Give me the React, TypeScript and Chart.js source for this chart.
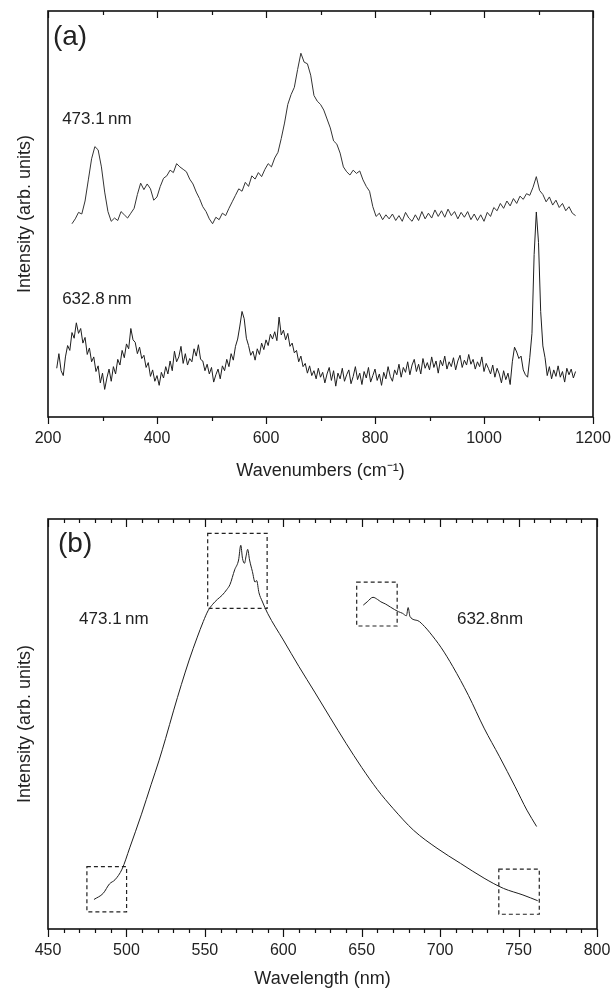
import React, { useEffect, useRef } from 'react';
import { Chart, registerables } from 'chart.js';

Chart.register(...registerables);

const FONT = '"Liberation Sans", Arial, Helvetica, sans-serif';
const TEXT = '#222';
const LINE = '#1e1e1e';

// ---------- Panel (a): Raman spectra ----------
const ramanTicks = [200, 400, 600, 800, 1000, 1200];

const raman473X = [
  244, 250, 256, 262, 268, 274, 280, 286, 292, 298,
  304, 310, 316, 322, 328, 334, 340, 346, 352, 358,
  364, 370, 376, 382, 388, 394, 400, 406, 412, 418,
  424, 430, 436, 442, 448, 454, 460, 466, 472, 478,
  484, 490, 496, 502, 508, 514, 520, 526, 532, 538,
  544, 550, 556, 562, 568, 574, 580, 586, 592, 598,
  604, 610, 616, 622, 628, 634, 640, 646, 652, 658,
  664, 670, 676, 682, 688, 694, 700, 706, 712, 718,
  724, 730, 736, 742, 748, 754, 760, 766, 772, 778,
  784, 790, 796, 802, 808, 814, 820, 826, 832, 838,
  844, 850, 856, 862, 868, 874, 880, 886, 892, 898,
  904, 910, 916, 922, 928, 934, 940, 946, 952, 958,
  964, 970, 976, 982, 988, 994, 1000, 1006, 1012, 1018,
  1024, 1030, 1036, 1042, 1048, 1054, 1060, 1066, 1072, 1078,
  1084, 1090, 1096, 1102, 1108, 1114, 1120, 1126, 1132, 1138,
  1144, 1150, 1156, 1162, 1168,
];
const raman473Y = [
  47.6, 48.8, 50.4, 50.0, 53.2, 58.4, 63.6, 66.6, 65.8, 61.6,
  55.4, 50.6, 48.2, 49.0, 48.4, 50.6, 49.8, 49.0, 50.2, 51.4,
  54.8, 57.6, 56.0, 57.4, 56.2, 53.4, 54.2, 56.8, 58.8, 59.4,
  60.8, 60.2, 62.4, 61.6, 61.0, 60.4, 58.6, 57.4, 55.4, 53.8,
  51.8, 50.6, 48.8, 47.6, 49.2, 48.6, 50.2, 49.6, 51.4, 53.0,
  54.6, 56.2, 55.6, 57.8, 56.8, 59.4, 58.6, 60.2, 59.2, 61.0,
  62.4, 61.6, 63.8, 65.2, 68.6, 72.4, 77.0, 79.4, 81.2, 85.6,
  89.6, 87.4, 87.0, 84.2, 79.2, 77.8, 77.0, 75.6, 73.4, 71.2,
  68.0, 67.2, 65.0, 61.6, 60.4, 59.6, 60.8, 60.0, 60.6, 58.4,
  56.8, 55.6, 51.8, 49.4, 50.2, 48.6, 49.8, 48.8, 50.0, 48.4,
  49.6, 48.2, 50.4, 49.0, 48.2, 49.8, 48.4, 50.6, 48.8, 50.2,
  49.0, 51.0, 49.4, 50.8, 49.2, 51.2, 49.6, 50.6, 48.8, 50.4,
  49.2, 50.6, 48.6, 50.0, 48.4, 49.8, 48.2, 50.4, 49.4, 51.6,
  50.8, 52.6, 51.4, 53.2, 52.0, 53.8, 52.6, 54.4, 53.6, 55.0,
  54.6, 56.6, 59.2, 55.8, 54.8, 53.0, 54.2, 52.2, 53.4, 51.6,
  52.6, 50.8, 51.8, 50.2, 49.6,
];

const raman632X = [
  216, 220, 224, 228, 232, 236, 240, 244, 248, 252,
  256, 260, 264, 268, 272, 276, 280, 284, 288, 292,
  296, 300, 304, 308, 312, 316, 320, 324, 328, 332,
  336, 340, 344, 348, 352, 356, 360, 364, 368, 372,
  376, 380, 384, 388, 392, 396, 400, 404, 408, 412,
  416, 420, 424, 428, 432, 436, 440, 444, 448, 452,
  456, 460, 464, 468, 472, 476, 480, 484, 488, 492,
  496, 500, 504, 508, 512, 516, 520, 524, 528, 532,
  536, 540, 544, 548, 552, 556, 560, 564, 568, 572,
  576, 580, 584, 588, 592, 596, 600, 604, 608, 612,
  616, 620, 624, 628, 632, 636, 640, 644, 648, 652,
  656, 660, 664, 668, 672, 676, 680, 684, 688, 692,
  696, 700, 704, 708, 712, 716, 720, 724, 728, 732,
  736, 740, 744, 748, 752, 756, 760, 764, 768, 772,
  776, 780, 784, 788, 792, 796, 800, 804, 808, 812,
  816, 820, 824, 828, 832, 836, 840, 844, 848, 852,
  856, 860, 864, 868, 872, 876, 880, 884, 888, 892,
  896, 900, 904, 908, 912, 916, 920, 924, 928, 932,
  936, 940, 944, 948, 952, 956, 960, 964, 968, 972,
  976, 980, 984, 988, 992, 996, 1000, 1004, 1008, 1012,
  1016, 1020, 1024, 1028, 1032, 1036, 1040, 1044, 1048, 1052,
  1056, 1060, 1064, 1068, 1072, 1076, 1080, 1084, 1088, 1092,
  1096, 1100, 1104, 1108, 1112, 1116, 1120, 1124, 1128, 1132,
  1136, 1140, 1144, 1148, 1152, 1156, 1160, 1164, 1168,
];
const raman632Y = [
  12.0, 15.6, 11.4, 10.2, 14.8, 17.6, 16.4, 20.8, 19.4, 23.2,
  20.6, 21.8, 18.2, 19.6, 15.4, 17.0, 13.6, 14.8, 11.2, 12.6,
  8.4, 10.8, 6.8, 9.6, 11.8, 8.8, 12.4, 10.6, 14.2, 12.8,
  16.4, 14.6, 18.0, 16.8, 21.8, 19.0, 18.4, 15.6, 17.2, 14.4,
  15.2, 12.2, 13.4, 10.0, 11.6, 8.8, 10.2, 7.8, 11.0, 9.6,
  12.4, 10.6, 13.8, 11.4, 16.2, 13.6, 14.8, 17.4, 13.2, 15.6,
  12.8, 14.4, 13.6, 16.8, 15.0, 17.8, 14.2, 13.8, 11.4, 13.0,
  10.6, 12.2, 8.6, 10.4, 11.8, 9.4, 12.6, 11.4, 14.2, 12.4,
  15.6, 14.0, 17.4, 19.2, 22.4, 26.0, 24.2, 19.4, 17.6, 15.2,
  16.2, 14.0, 16.8, 15.4, 18.2, 16.6, 19.0, 17.6, 20.4, 19.2,
  21.0, 18.8, 24.6, 20.2, 21.4, 19.0, 20.6, 17.4, 18.2, 15.8,
  16.4, 13.6, 15.0, 12.4, 13.2, 10.8, 12.6, 10.2, 11.4, 9.4,
  12.0, 9.8, 11.0, 8.4, 10.6, 12.2, 9.0, 11.4, 7.6, 10.8,
  9.4, 12.0, 8.8, 10.4, 11.6, 8.2, 10.0, 12.4, 9.2, 10.8,
  8.0, 11.2, 9.6, 12.2, 8.6, 10.2, 11.8, 9.0, 10.6, 7.8,
  11.0, 9.4, 12.4, 10.0, 8.8, 11.6, 10.4, 13.0, 9.8, 12.2,
  11.0, 13.6, 10.4, 12.8, 14.2, 11.2, 13.0, 10.6, 14.4, 12.0,
  13.4, 11.6, 14.8, 12.2, 13.8, 10.8, 14.0, 12.6, 15.0, 11.8,
  13.6, 12.4, 14.6, 11.6, 13.8, 15.2, 12.2, 14.0, 12.8, 15.4,
  13.0, 14.2, 11.8, 13.6, 12.4, 14.8, 11.2, 13.2, 12.0, 10.6,
  12.8, 9.8, 12.0, 10.6, 8.4, 11.4, 9.2, 10.8, 8.0, 13.6,
  17.2, 16.0, 14.4, 15.0, 11.6, 10.4, 9.8, 14.6, 20.6, 40.0,
  50.5, 43.0, 26.0, 17.5, 14.6, 10.2, 12.4, 9.4, 11.6, 10.0,
  12.6, 9.8, 11.2, 8.6, 12.0, 10.4, 11.8, 9.6, 11.2,
];

// ---------- Panel (b): photoluminescence ----------
const plTicks = [450, 500, 550, 600, 650, 700, 750, 800];

const pl473X = [
  479.3, 485.2, 489.2, 492.7, 497.2, 502.1, 509.6, 515.8, 520.7, 525.0, 530.0, 535.0, 540.0, 545.0, 549.0, 552.0,
  555.0, 558.0, 561.0, 564.0, 566.0, 569.0, 571.5, 572.9, 574.0, 575.3, 576.3, 577.3, 578.5, 580.3, 582.0, 583.0,
  584.5, 586.5, 590.0, 600.0, 610.0, 620.0, 630.0, 640.0, 650.0, 660.0, 670.0, 683.0, 698.0, 713.0, 728.0, 740.4,
  752.8, 762.2,
];
const pl473Y = [
  7.2, 8.7, 11.0, 12.0, 14.6, 19.8, 28.0, 35.3, 41.0, 46.5, 53.2, 59.6, 65.6, 71.0, 75.0, 77.6,
  79.2, 80.4, 81.4, 82.8, 84.0, 87.6, 90.0, 93.6, 90.4, 89.2, 91.0, 92.6, 90.0, 87.2, 84.6, 85.0,
  82.0, 80.0, 77.0, 70.5, 64.0, 57.8, 51.5, 45.3, 39.4, 34.0, 29.4, 24.1, 19.7, 16.0, 12.4, 9.9,
  8.3, 6.9,
];

const pl632X = [
  651.0, 653.5, 657.2, 660.0, 662.2, 665.0, 668.4, 671.0, 673.4, 676.0, 678.5, 679.6, 680.8, 685.8, 690.0, 693.2,
  700.7, 708.1, 718.0, 728.0, 737.9, 747.8, 755.3, 761.5,
];
const pl632Y = [
  79.0, 79.8, 80.9, 80.4, 79.8, 79.3, 78.5, 77.9, 77.4, 77.0, 76.4, 78.4, 76.2, 75.2, 73.8, 72.4,
  68.6, 64.0, 57.0, 49.0, 42.0, 34.7, 29.0, 25.0,
];

// dashed highlight boxes (wavelength / intensity extents)
const boxWlMin = [474.8, 551.8, 646.8, 737.4];
const boxWlMax = [500.1, 589.7, 672.6, 763.2];
const boxIntMin = [4.2, 78.2, 73.9, 3.6];
const boxIntMax = [15.2, 96.5, 84.6, 14.6];

type Label = { text: string; x: number; y: number; size: number };
type Box = { x0: number; x1: number; y0: number; y1: number };

function decorPlugin(cfg: {
  minorStep: number;
  majorStep: number;
  minorLen: number;
  majorLen: number;
  boxes: Box[];
  labels: Label[];
}) {
  return {
    id: 'decor',
    afterDatasetsDraw(chart: any) {
      const { ctx, chartArea: a, scales } = chart;
      const x = scales.x;
      const y = scales.y;
      ctx.save();
      // frame
      ctx.strokeStyle = '#111';
      ctx.lineWidth = 1.6;
      ctx.setLineDash([]);
      ctx.strokeRect(a.left, a.top, a.right - a.left, a.bottom - a.top);
      // ticks: outward at bottom, inward at top
      ctx.lineWidth = 1.2;
      const n = Math.round((x.max - x.min) / cfg.minorStep);
      const ratio = Math.round(cfg.majorStep / cfg.minorStep);
      for (let i = 0; i <= n; i++) {
        const v = x.min + i * cfg.minorStep;
        const px = Math.round(x.getPixelForValue(v)) + 0.5;
        const len = i % ratio === 0 ? cfg.majorLen : cfg.minorLen;
        ctx.beginPath();
        ctx.moveTo(px, a.bottom);
        ctx.lineTo(px, a.bottom + len);
        ctx.moveTo(px, a.top);
        ctx.lineTo(px, a.top + len);
        ctx.stroke();
      }
      // dashed boxes
      ctx.setLineDash([4, 3]);
      ctx.lineWidth = 1.2;
      ctx.strokeStyle = '#222';
      cfg.boxes.forEach((b) => {
        const x0 = x.getPixelForValue(b.x0);
        const x1 = x.getPixelForValue(b.x1);
        const y0 = y.getPixelForValue(b.y0);
        const y1 = y.getPixelForValue(b.y1);
        ctx.strokeRect(x0, y1, x1 - x0, y0 - y1);
      });
      ctx.setLineDash([]);
      // text labels
      ctx.fillStyle = TEXT;
      ctx.textAlign = 'left';
      ctx.textBaseline = 'middle';
      cfg.labels.forEach((l) => {
        ctx.font = `${l.size}px ${FONT}`;
        ctx.fillText(l.text, x.getPixelForValue(l.x), y.getPixelForValue(l.y));
      });
      ctx.restore();
    },
  };
}

function toPoints(xs: number[], ys: number[]) {
  return xs.map((v, i) => ({ x: v, y: ys[i] }));
}

function baseOptions(opts: {
  xMin: number;
  xMax: number;
  ticks: number[];
  xTitle: string;
  padTop: number;
  padRight: number;
  xHeight: number;
}) {
  return {
    animation: false,
    responsive: false,
    events: [],
    layout: { padding: { top: opts.padTop, right: opts.padRight, left: 0, bottom: 0 } },
    plugins: { legend: { display: false }, tooltip: { enabled: false } },
    scales: {
      x: {
        type: 'linear',
        min: opts.xMin,
        max: opts.xMax,
        afterBuildTicks: (s: any) => {
          s.ticks = opts.ticks.map((v) => ({ value: v }));
        },
        afterFit: (s: any) => {
          s.height = opts.xHeight;
          s.paddingLeft = 0;
          s.paddingRight = 0;
        },
        grid: { display: false, drawTicks: false },
        border: { display: false },
        ticks: {
          padding: 12,
          autoSkip: false,
          maxRotation: 0,
          color: TEXT,
          font: { family: FONT, size: 16 },
          callback: (v: any) => String(v),
        },
        title: {
          display: true,
          text: opts.xTitle,
          color: TEXT,
          font: { family: FONT, size: 18, lineHeight: 1 },
          padding: { top: 0, bottom: 0 },
        },
      },
      y: {
        min: 0,
        max: 100,
        afterFit: (s: any) => {
          s.width = 48;
        },
        grid: { display: false, drawTicks: false },
        border: { display: false },
        ticks: { display: false },
        title: {
          display: true,
          text: 'Intensity (arb. units)',
          color: TEXT,
          font: { family: FONT, size: 18, lineHeight: 1 },
          padding: { top: 16, bottom: 0 },
        },
      },
    },
  };
}

const lineStyle = {
  borderColor: LINE,
  borderWidth: 1,
  pointRadius: 0,
  fill: false,
};

export default function App() {
  const refA = useRef<HTMLCanvasElement>(null);
  const refB = useRef<HTMLCanvasElement>(null);

  useEffect(() => {
    const chartA = new Chart(refA.current as HTMLCanvasElement, {
      type: 'line',
      data: {
        datasets: [
          { ...lineStyle, data: toPoints(raman473X, raman473Y), borderColor: '#333' },
          { ...lineStyle, data: toPoints(raman632X, raman632Y) },
        ],
      },
      options: baseOptions({
        xMin: 200,
        xMax: 1200,
        ticks: ramanTicks,
        xTitle: 'Wavenumbers (cm\u207B\u00B9)',
        padTop: 11,
        padRight: 20,
        xHeight: 63,
      }) as any,
      plugins: [
        decorPlugin({
          minorStep: 100,
          majorStep: 200,
          minorLen: 4,
          majorLen: 7,
          boxes: [],
          labels: [
            { text: '(a)', x: 209, y: 93.6, size: 28 },
            { text: '473.1\u2009nm', x: 226, y: 73.4, size: 17 },
            { text: '632.8\u2009nm', x: 226, y: 29.1, size: 17 },
          ],
        }),
      ],
    });

    const boxes = boxWlMin.map((v, i) => ({
      x0: v,
      x1: boxWlMax[i],
      y0: boxIntMin[i],
      y1: boxIntMax[i],
    }));

    const chartB = new Chart(refB.current as HTMLCanvasElement, {
      type: 'line',
      data: {
        datasets: [
          { ...lineStyle, data: toPoints(pl473X, pl473Y), cubicInterpolationMode: 'monotone' },
          { ...lineStyle, data: toPoints(pl632X, pl632Y), cubicInterpolationMode: 'monotone' },
        ],
      },
      options: baseOptions({
        xMin: 450,
        xMax: 800,
        ticks: plTicks,
        xTitle: 'Wavelength (nm)',
        padTop: 39,
        padRight: 16,
        xHeight: 59,
      }) as any,
      plugins: [
        decorPlugin({
          minorStep: 10,
          majorStep: 50,
          minorLen: 4,
          majorLen: 8,
          boxes,
          labels: [
            { text: '(b)', x: 456.4, y: 93.9, size: 28 },
            { text: '473.1\u2009nm', x: 469.8, y: 75.6, size: 17 },
            { text: '632.8nm', x: 710.7, y: 75.6, size: 17 },
          ],
        }),
      ],
    });

    return () => {
      chartA.destroy();
      chartB.destroy();
    };
  }, []);

  return (
    <div
      style={{
        position: 'absolute',
        left: 0,
        top: 0,
        width: 613,
        height: 988,
        background: '#fff',
      }}
    >
      <canvas ref={refA} width={613} height={480} style={{ display: 'block' }} />
      <canvas ref={refB} width={613} height={508} style={{ display: 'block' }} />
    </div>
  );
}
